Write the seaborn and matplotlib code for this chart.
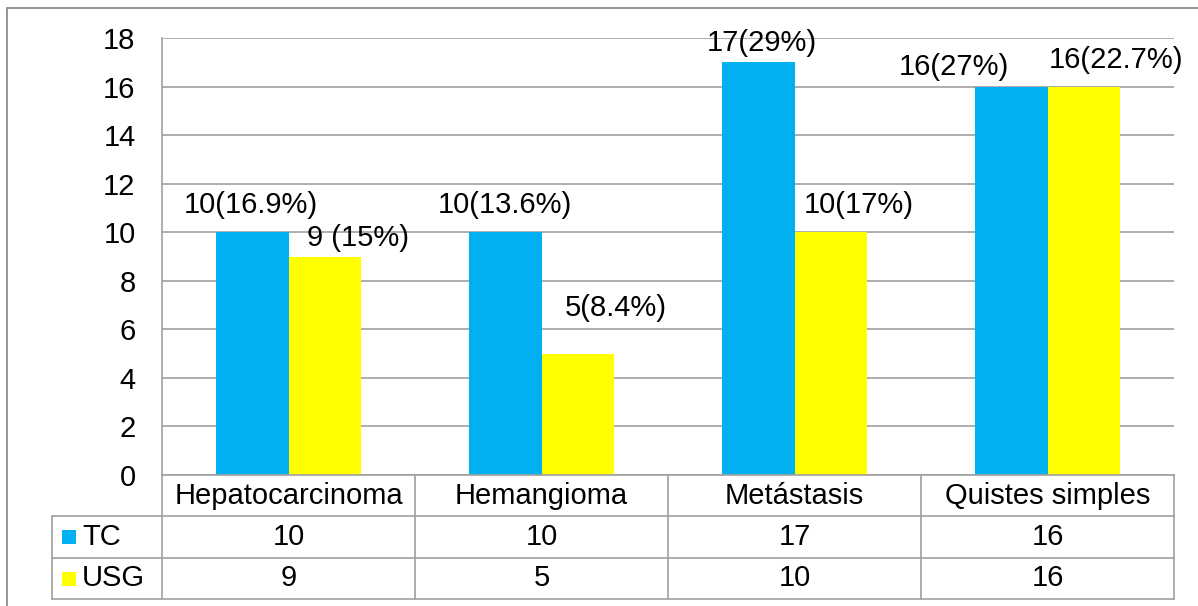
import matplotlib
matplotlib.use("Agg")
import matplotlib.pyplot as plt
from matplotlib.lines import Line2D
from matplotlib.patches import Rectangle
import pandas as pd
import seaborn as sns

# ---- data ----
categories = ["Hepatocarcinoma", "Hemangioma", "Metástasis", "Quistes simples"]
series_names = ["TC", "USG"]
tc_values = [10, 10, 17, 16]
usg_values = [9, 5, 10, 16]
tc_pct = ["(16.9%)", "(13.6%)", "(29%)", "(27%)"]
usg_pct = [" (15%)", "(8.4%)", "(17%)", "(22.7%)"]
y_ticks = [0, 2, 4, 6, 8, 10, 12, 14, 16, 18]

# ---- style ----
colors = {"TC": "#00B0F0", "USG": "#FFFF00"}
grid_color = "#a0a0a0"
fsize = 21
# label offsets (pixels) from the top centre of each bar
tc_offsets = [(-1, 27), (0, 27), (4, 19), (-57, 20)]
usg_offsets = [(33, 18), (38, 46), (28, 27), (32, 27)]

df = pd.DataFrame({
    "categoria": categories * 2,
    "serie": [series_names[0]] * len(categories) + [series_names[1]] * len(categories),
    "valor": tc_values + usg_values,
})

sns.set_theme(style="white")
plt.rcParams["font.family"] = ["Liberation Sans", "DejaVu Sans"]

W, H = 1198, 606
fig = plt.figure(figsize=(W / 100, H / 100), dpi=100)
# plot area in pixel terms: x 162..1174, y 38..475
ax = fig.add_axes([162 / W, 1 - 475 / H, 1012 / W, 437 / H])

bar_width = 0.573
sns.barplot(data=df, x="categoria", y="valor", hue="serie", order=categories,
            hue_order=series_names, palette=colors, width=bar_width, gap=0,
            saturation=1, errorbar=None, legend=False, linewidth=0, ax=ax)

ax.set_xlim(-0.5, len(categories) - 0.5)
ax.set_ylim(0, 18)
ax.set_yticks(y_ticks)
ax.set_xticks([])
ax.set_xlabel("")
ax.set_ylabel("")
ax.yaxis.grid(True, color=grid_color, linewidth=1.2)
ax.set_axisbelow(True)
for side in ["top", "right"]:
    ax.spines[side].set_visible(False)
for side in ["left", "bottom"]:
    ax.spines[side].set_color(grid_color)
    ax.spines[side].set_linewidth(1.2)
ax.tick_params(axis="y", length=0, pad=19, labelsize=fsize, labelcolor="black")

# value labels above the bars
half = bar_width / 4
for i, cat in enumerate(categories):
    for vals, pcts, offs, shift in [(tc_values, tc_pct, tc_offsets, -half),
                                    (usg_values, usg_pct, usg_offsets, half)]:
        v = vals[i]
        ax.annotate(f"{v}{pcts[i]}", xy=(i + shift, v),
                    xytext=offs[i], textcoords="offset pixels",
                    ha="center", va="center", fontsize=fsize, color="black",
                    annotation_clip=False)

# ---- data table under the plot ----
n = len(categories)
px_x = lambda p: (p - 162) / 1012
px_y = lambda p: (475 - p) / 437
rows_y = [px_y(475), px_y(516), px_y(558), px_y(599)]
left_edge = px_x(52)
lkw = dict(color=grid_color, linewidth=1.2, transform=ax.transAxes, clip_on=False)

# vertical lines
for k in range(n + 1):
    x = k / n
    fig.add_artist(Line2D([x, x], [rows_y[0], rows_y[3]], **lkw))
fig.add_artist(Line2D([left_edge, left_edge], [rows_y[1], rows_y[3]], **lkw))
# horizontal lines
for y in rows_y[1:]:
    fig.add_artist(Line2D([left_edge, 1], [y, y], **lkw))

row_center = [(rows_y[j] + rows_y[j + 1]) / 2 for j in range(3)]
for i, cat in enumerate(categories):
    xc = (i + 0.5) / n
    ax.text(xc, row_center[0], cat, transform=ax.transAxes, ha="center",
            va="center", fontsize=fsize, color="black")
    ax.text(xc, row_center[1], f"{tc_values[i]}", transform=ax.transAxes,
            ha="center", va="center", fontsize=fsize, color="black")
    ax.text(xc, row_center[2], f"{usg_values[i]}", transform=ax.transAxes,
            ha="center", va="center", fontsize=fsize, color="black")

# legend keys inside the table
sq_w, sq_h = 14 / 1012, 14 / 437
for j, name in enumerate(series_names):
    yc = row_center[j + 1]
    ax.add_patch(Rectangle((px_x(62), yc - sq_h / 2), sq_w, sq_h,
                           facecolor=colors[name], edgecolor="none",
                           transform=ax.transAxes, clip_on=False))
    ax.text(px_x(82), yc, name, transform=ax.transAxes, ha="left",
            va="center", fontsize=fsize, color="black")

# chart frame
bkw = dict(color="#8c8c8c", linewidth=1.3, transform=fig.transFigure)
fig.add_artist(Line2D([7 / W, 7 / W], [0, 1 - 8 / H], **bkw))
fig.add_artist(Line2D([7 / W, 1], [1 - 8 / H, 1 - 8 / H], **bkw))

fig.savefig("out.png", dpi=100, facecolor="white")
